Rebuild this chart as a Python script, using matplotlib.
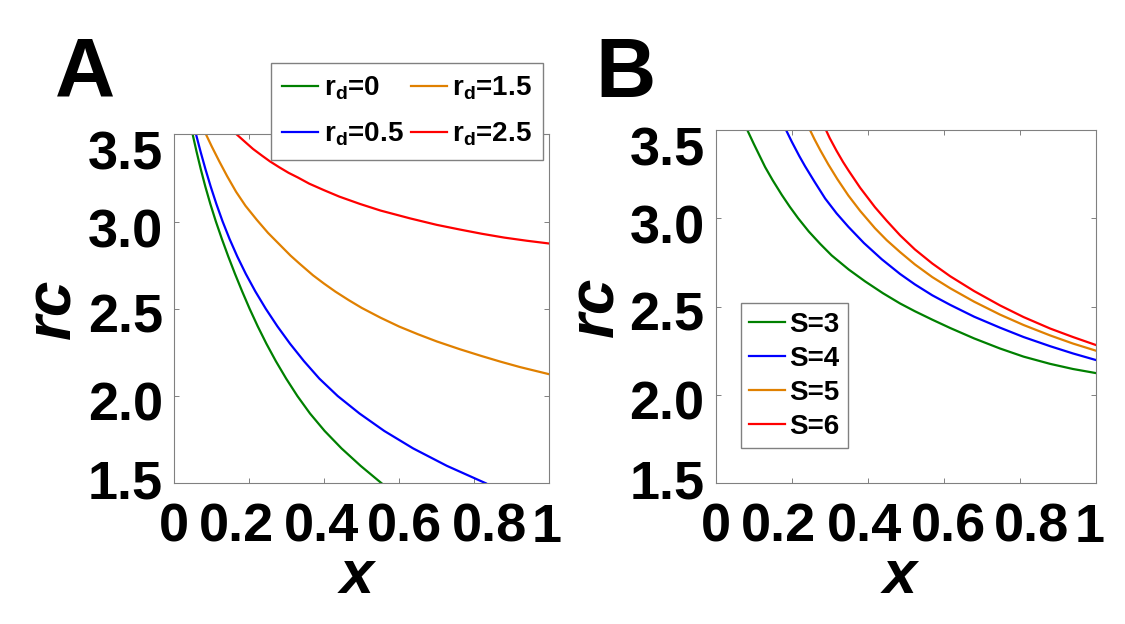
import matplotlib
matplotlib.use("Agg")
import matplotlib.pyplot as plt
import matplotlib.transforms as mtransforms

plt.rcParams['font.family'] = ['Liberation Sans', 'DejaVu Sans']
plt.rcParams['font.weight'] = 'bold'
plt.rcParams['mathtext.fontset'] = 'custom'
plt.rcParams['mathtext.rm'] = 'Liberation Sans:bold'
plt.rcParams['mathtext.it'] = 'Liberation Sans:bold:italic'
plt.rcParams['mathtext.bf'] = 'Liberation Sans:bold'

# levels of r_c used for the steep curves of panel A
a_levels = [3.5, 3.4, 3.3, 3.2, 3.1, 3.0, 2.9, 2.8, 2.7, 2.6, 2.5,
            2.4, 2.3, 2.2, 2.1, 2.0, 1.9, 1.8, 1.7, 1.6, 1.5]

# panel A: r_c versus x for several r_d
rd_labels = ['0', '0.5', '1.5', '2.5']
a_x_rd0 = [0.049, 0.0595, 0.0707, 0.0829, 0.0963, 0.111, 0.127, 0.144, 0.162, 0.181, 0.201,
           0.2225, 0.2457, 0.2709, 0.2984, 0.3284, 0.362, 0.401, 0.446, 0.497, 0.553]
a_y_rd0 = a_levels
a_x_rd05 = [0.058, 0.0702, 0.0832, 0.0972, 0.1124, 0.129, 0.1475, 0.168, 0.1908, 0.2161, 0.2441,
            0.2749, 0.3087, 0.3459, 0.3869, 0.4359, 0.494, 0.560, 0.637, 0.727, 0.831]
a_y_rd05 = a_levels
a_x_rd15 = [0.0845, 0.10, 0.12, 0.141, 0.165, 0.19, 0.22, 0.25, 0.28, 0.31, 0.335, 0.37, 0.399,
            0.43, 0.465, 0.50, 0.55, 0.60, 0.65, 0.70, 0.762, 0.82, 0.87, 0.922, 0.96, 1.0]
a_y_rd15 = [3.50, 3.43, 3.345, 3.26, 3.17, 3.09, 3.01, 2.935, 2.87, 2.805, 2.757, 2.692, 2.645,
            2.598, 2.55, 2.505, 2.449, 2.398, 2.354, 2.313, 2.268, 2.229, 2.197, 2.166, 2.146, 2.125]
a_x_rd25 = [0.166, 0.19, 0.21, 0.235, 0.255, 0.28, 0.305, 0.33, 0.36, 0.399, 0.44, 0.495,
            0.55, 0.629, 0.70, 0.762, 0.82, 0.880, 0.94, 1.0]
a_y_rd25 = [3.50, 3.454, 3.416, 3.376, 3.345, 3.311, 3.279, 3.252, 3.217, 3.180, 3.143, 3.101,
            3.063, 3.018, 2.981, 2.954, 2.930, 2.908, 2.890, 2.874]

# panel B: r_c versus x for several S
s_labels = ['3', '4', '5', '6']
b_x_s3 = [0.083, 0.10, 0.115, 0.130, 0.150, 0.174, 0.195, 0.217, 0.245, 0.275, 0.305, 0.35,
          0.393, 0.44, 0.485, 0.524, 0.57, 0.617, 0.68, 0.748, 0.81, 0.880, 0.94, 1.0]
b_y_s3 = [3.50, 3.422, 3.356, 3.29, 3.215, 3.132, 3.065, 3.000, 2.925, 2.855, 2.790, 2.710,
          2.643, 2.576, 2.518, 2.474, 2.426, 2.379, 2.320, 2.263, 2.217, 2.176, 2.147, 2.124]
b_x_s4 = [0.185, 0.20, 0.22, 0.235, 0.26, 0.288, 0.318, 0.349, 0.39, 0.437, 0.485, 0.524,
          0.57, 0.617, 0.68, 0.748, 0.81, 0.88, 0.94, 1.0]
b_y_s4 = [3.50, 3.434, 3.352, 3.295, 3.207, 3.112, 3.028, 2.952, 2.860, 2.768, 2.685, 2.626,
          2.564, 2.510, 2.443, 2.381, 2.328, 2.276, 2.235, 2.198]
b_x_s5 = [0.248, 0.26, 0.275, 0.296, 0.32, 0.349, 0.38, 0.419, 0.45, 0.485, 0.524, 0.57,
          0.617, 0.68, 0.748, 0.81, 0.88, 0.94, 1.0]
b_y_s5 = [3.50, 3.447, 3.386, 3.306, 3.222, 3.129, 3.042, 2.944, 2.876, 2.809, 2.739, 2.667,
          2.604, 2.528, 2.455, 2.396, 2.337, 2.291, 2.251]
b_x_s6 = [0.290, 0.30, 0.318, 0.335, 0.349, 0.38, 0.419, 0.45, 0.485, 0.524, 0.57, 0.617,
          0.68, 0.748, 0.81, 0.88, 0.94, 1.0]
b_y_s6 = [3.50, 3.454, 3.382, 3.319, 3.272, 3.173, 3.063, 2.986, 2.904, 2.824, 2.744, 2.672,
          2.588, 2.507, 2.441, 2.376, 2.328, 2.283]

colors = ['#008000', '#0000ff', '#e08000', '#ff0000']
xticks = [0, 0.2, 0.4, 0.6, 0.8, 1]
xticklabels = ['0', '0.2', '0.4', '0.6', '0.8', '1']
yticks = [1.5, 2.0, 2.5, 3.0, 3.5]
yticklabels = ['1.5', '2.0', '2.5', '3.0', '3.5']

fig = plt.figure(figsize=(11.25, 6.24), dpi=100)
axA = fig.add_axes([0.1549, 0.2255, 0.3333, 0.5593])
axB = fig.add_axes([0.6362, 0.2255, 0.3378, 0.5662])


def shift_labels(ticks, dx_list, dy_list):
    # nudge tick labels (pixels) the way the original export spread them
    for t, dx, dy in zip(ticks, dx_list, dy_list):
        off = mtransforms.ScaledTranslation(dx / 100.0, -dy / 100.0, fig.dpi_scale_trans)
        t.label1.set_transform(t.label1.get_transform() + off)


def style_axes(ax, xdx):
    ax.set_xlim(0, 1)
    ax.set_ylim(1.5, 3.5)
    ax.set_xticks(xticks)
    ax.set_xticklabels(xticklabels)
    ax.set_yticks(yticks)
    ax.set_yticklabels(yticklabels)
    ax.tick_params(direction='in', length=3.5, width=0.7, color='#808080',
                   top=True, right=True, labelsize=39)
    ax.tick_params(axis='x', pad=14)
    ax.tick_params(axis='y', pad=8)
    for sp in ax.spines.values():
        sp.set_color('#808080')
        sp.set_linewidth(0.8)
    ax.set_xlabel('x', fontsize=44, fontstyle='italic', fontweight='bold', va='baseline')
    ax.set_ylabel('rc', fontsize=46, fontstyle='italic', fontweight='bold', va='center')
    shift_labels(ax.xaxis.get_major_ticks(), xdx, [0] * 6)
    shift_labels(ax.yaxis.get_major_ticks(), [0] * 5, [-4, 5, 4, 6, 16])


a_series = [(a_x_rd0, a_y_rd0), (a_x_rd05, a_y_rd05), (a_x_rd15, a_y_rd15), (a_x_rd25, a_y_rd25)]
for (xs, ys), c, lab in zip(a_series, colors, rd_labels):
    axA.plot(xs, ys, color=c, lw=1.6, label='r$_\\mathrm{d}$=' + lab)
style_axes(axA, [-0.8, -12.6, -2.6, 5.7, 15.7, -2.8])
axA.xaxis.set_label_coords(0.487, -0.314)
axA.yaxis.set_label_coords(-0.323, 0.5)
axA.legend(ncol=2, loc='upper right', bbox_to_anchor=(0.984, 1.203), borderaxespad=0,
           fontsize=20, fancybox=False, edgecolor='#808080', framealpha=1,
           handlelength=1.3, handletextpad=0.2, columnspacing=0.25,
           borderpad=0.4, labelspacing=0.68)

b_series = [(b_x_s3, b_y_s3), (b_x_s4, b_y_s4), (b_x_s5, b_y_s5), (b_x_s6, b_y_s6)]
for (xs, ys), c, lab in zip(b_series, colors, s_labels):
    axB.plot(xs, ys, color=c, lw=1.6, label='S=' + lab)
style_axes(axB, [-0.2, -13, -3, 5, 12, -6])
axB.xaxis.set_label_coords(0.485, -0.3105)
axB.yaxis.set_label_coords(-0.315, 0.5)
axB.legend(loc='lower left', bbox_to_anchor=(0.066, 0.099), borderaxespad=0,
           fontsize=20, fancybox=False, edgecolor='#808080', framealpha=1,
           handlelength=1.3, handletextpad=0.15, borderpad=0.3, labelspacing=0.29)

fig.text(0.049, 0.845, 'A', fontsize=60, fontweight='bold', va='baseline')
fig.text(0.529, 0.845, 'B', fontsize=60, fontweight='bold', va='baseline')

fig.savefig('out.png', dpi=100)
